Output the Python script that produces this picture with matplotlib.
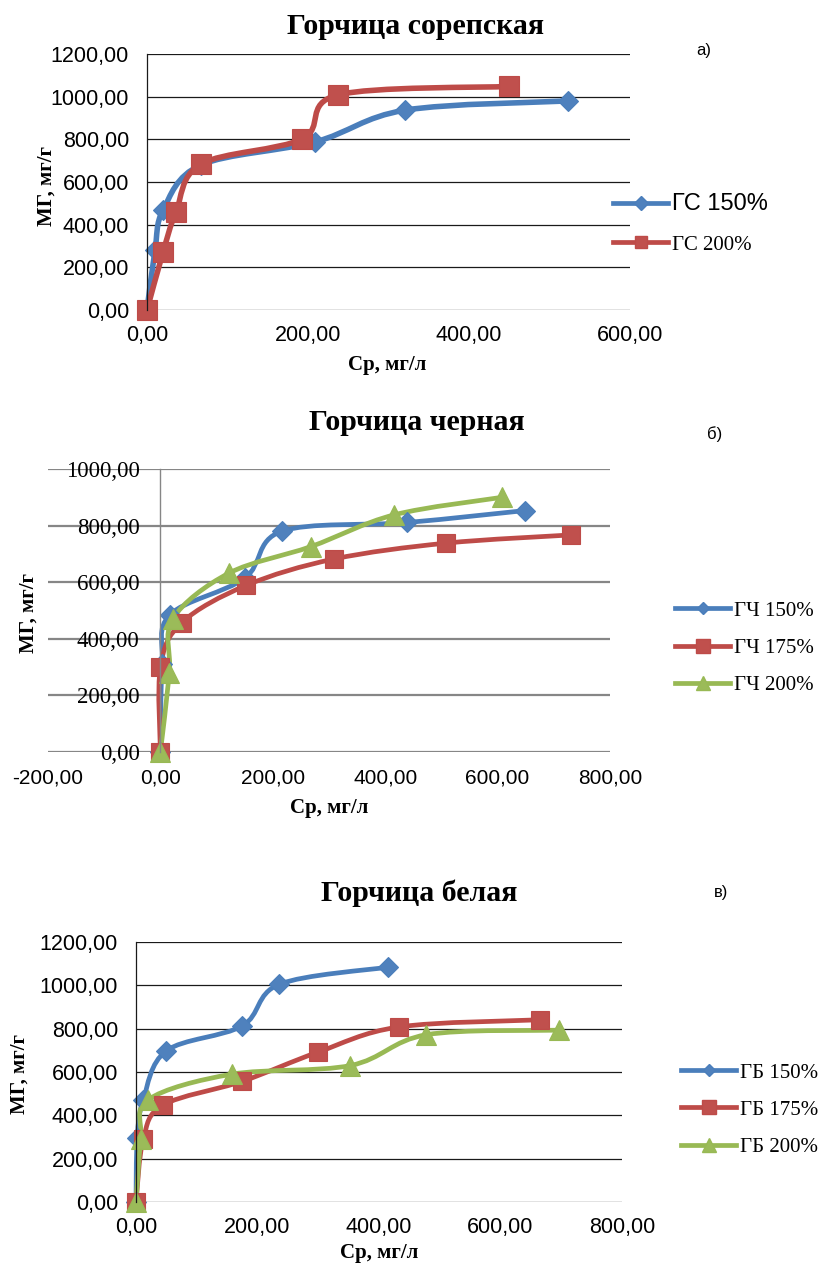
import matplotlib
matplotlib.use('Agg')
import matplotlib.pyplot as plt
from matplotlib.path import Path
from matplotlib.patches import PathPatch
from matplotlib.lines import Line2D
from matplotlib.ticker import FuncFormatter, MultipleLocator

SANS = 'Liberation Sans'
SERIF = 'Liberation Serif'

# а) Горчица сорепская
gs_labels = ['ГС 150%', 'ГС 200%']
gs150_x = [0, 10, 20, 67, 209, 321, 523]
gs150_y = [0, 281, 469, 680, 788, 937, 980]
gs200_x = [0, 20, 36, 67, 193, 237, 450]
gs200_y = [0, 272, 459, 684, 802, 1008, 1048]

# б) Горчица черная
gch_labels = ['ГЧ 150%', 'ГЧ 175%', 'ГЧ 200%']
gch150_x = [0, 3, 17, 150, 216, 439, 648]
gch150_y = [0, 310, 485, 614, 780, 811, 853]
gch175_x = [0, 0, 38, 153, 309, 508, 730]
gch175_y = [0, 300, 457, 589, 682, 738, 767]
gch200_x = [0, 16, 22, 122, 268, 416, 608]
gch200_y = [0, 280, 470, 632, 726, 838, 900]

# в) Горчица белая
gb_labels = ['ГБ 150%', 'ГБ 175%', 'ГБ 200%']
gb150_x = [0, 2, 12, 50, 175, 236, 415]
gb150_y = [0, 295, 472, 698, 813, 1005, 1084]
gb175_x = [0, 12, 45, 175, 299, 433, 665]
gb175_y = [0, 290, 448, 557, 691, 808, 841]
gb200_x = [0, 8, 20, 158, 353, 478, 697]
gb200_y = [0, 290, 472, 590, 630, 772, 793]

BLUE = ('#4a7ebb', '#4f81bd')
RED = ('#be4b48', '#c0504d')
GREEN = ('#98b954', '#9bbb59')


def smooth_path(xs, ys):
    # сглаженная линия как в Excel (кривые Безье через точки)
    pts = list(zip(xs, ys))
    n = len(pts)
    verts = [pts[0]]
    codes = [Path.MOVETO]
    for i in range(n - 1):
        p0 = pts[i - 1] if i > 0 else pts[i]
        p1 = pts[i]
        p2 = pts[i + 1]
        p3 = pts[i + 2] if i + 2 < n else pts[i + 1]
        c1 = (p1[0] + (p2[0] - p0[0]) / 6, p1[1] + (p2[1] - p0[1]) / 6)
        c2 = (p2[0] - (p3[0] - p1[0]) / 6, p2[1] - (p3[1] - p1[1]) / 6)
        verts += [c1, c2, p2]
        codes += [Path.CURVE4] * 3
    return Path(verts, codes)


def series(ax, xs, ys, colors, marker, ms, lw):
    ax.add_patch(PathPatch(smooth_path(xs, ys), fill=False, edgecolor=colors[0],
                           lw=lw, capstyle='round', joinstyle='round', clip_on=False))
    ax.plot(xs, ys, linestyle='none', marker=marker, ms=ms, color=colors[1],
            markeredgecolor=colors[0], markeredgewidth=0.8, clip_on=False)


fmt = FuncFormatter(lambda v, p: ('%.2f' % v).replace('.', ','))

fig = plt.figure(figsize=(8.24, 12.71), dpi=100)
W, H = 824.0, 1271.0


def axes_px(l, r, t, b):
    return fig.add_axes([l / W, 1 - b / H, (r - l) / W, (b - t) / H])


def legend(ax, handles, labels, x, yc, spacing):
    leg = ax.legend(handles, labels, loc='center left', bbox_to_anchor=(x / W, 1 - yc / H),
                    bbox_transform=fig.transFigure, frameon=False, borderpad=0,
                    borderaxespad=0, handlelength=2.65, handletextpad=0.2,
                    labelspacing=spacing, prop={'family': SERIF, 'size': 15})
    return leg


def handle(colors, marker, ms):
    return Line2D([], [], color=colors[0], lw=3.4, marker=marker, ms=ms,
                  markerfacecolor=colors[1], markeredgecolor=colors[0])


def basic_style(ax, gridcolor, gridlw):
    for s in ['top', 'right', 'bottom']:
        ax.spines[s].set_visible(False)
    ax.yaxis.grid(True, color=gridcolor, lw=gridlw)
    ax.set_axisbelow(True)
    ax.tick_params(length=0)
    ax.xaxis.set_major_formatter(fmt)
    ax.yaxis.set_major_formatter(fmt)


# ---------- а) ----------
ax1 = axes_px(147, 630, 54, 310)
basic_style(ax1, '#1a1a1a', 0.9)
ax1.spines['left'].set_color('#1a1a1a')
ax1.spines['left'].set_linewidth(0.9)
ax1.set_xlim(0, 600)
ax1.set_ylim(0, 1200)
ax1.xaxis.set_major_locator(MultipleLocator(200))
ax1.yaxis.set_major_locator(MultipleLocator(200))
ax1.tick_params(axis='y', pad=13)
ax1.tick_params(axis='x', pad=11)
for t in ax1.get_xticklabels() + ax1.get_yticklabels():
    t.set_family(SANS)
    t.set_fontsize(15.5)
series(ax1, gs150_x, gs150_y, BLUE, 'D', 10.5, 4.0)
series(ax1, gs200_x, gs200_y, RED, 's', 14.5, 4.0)
ax1.set_xlabel('Ср, мг/л', family=SERIF, fontsize=15, fontweight='bold')
ax1.set_ylabel('МГ, мг/г', family=SERIF, fontsize=15, fontweight='bold')
ax1.xaxis.set_label_coords((387 - 147) / 483.0, -(355 - 310) / 256.0)
ax1.yaxis.set_label_coords(-(147 - 57) / 483.0, (310 - 186) / 256.0)
fig.text(415 / W, 1 - 27 / H, 'Горчица сорепская', family=SERIF, fontsize=21.5,
         fontweight='bold', ha='center', va='center')
fig.text(704 / W, 1 - 50 / H, 'а)', family=SANS, fontsize=12, ha='center', va='center')
leg = legend(ax1, [handle(BLUE, 'D', 7), handle(RED, 's', 9)], gs_labels, 613, 224, 0.95)
leg.get_texts()[0].set_family(SANS)
leg.get_texts()[0].set_fontsize(17)

# ---------- б) ----------
ax2 = axes_px(48, 610, 469, 752)
basic_style(ax2, '#868686', 1.6)
ax2.spines['left'].set_position(('data', 0))
ax2.spines['left'].set_color('#868686')
ax2.spines['left'].set_linewidth(1.0)
ax2.set_xlim(-200, 800)
ax2.set_ylim(0, 1000)
ax2.xaxis.set_major_locator(MultipleLocator(200))
ax2.yaxis.set_major_locator(MultipleLocator(200))
ax2.tick_params(axis='y', pad=15)
ax2.tick_params(axis='x', pad=12)
for t in ax2.get_xticklabels():
    t.set_family(SANS)
    t.set_fontsize(15)
for t in ax2.get_yticklabels():
    t.set_family(SERIF)
    t.set_fontsize(16.5)
series(ax2, gch150_x, gch150_y, BLUE, 'D', 10, 3.4)
series(ax2, gch175_x, gch175_y, RED, 's', 13.5, 3.4)
series(ax2, gch200_x, gch200_y, GREEN, '^', 14, 3.4)
ax2.set_xlabel('Ср, мг/л', family=SERIF, fontsize=15, fontweight='bold')
ax2.set_ylabel('МГ, мг/г', family=SERIF, fontsize=15, fontweight='bold')
ax2.xaxis.set_label_coords((329 - 48) / 562.0, -(798 - 752) / 283.0)
ax2.yaxis.set_label_coords(-(48 - 39) / 562.0, (752 - 613) / 283.0)
fig.text(417 / W, 1 - 422 / H, 'Горчица черная', family=SERIF, fontsize=21.5,
         fontweight='bold', ha='center', va='center')
fig.text(715 / W, 1 - 434 / H, 'б)', family=SANS, fontsize=12, ha='center', va='center')
legend(ax2, [handle(BLUE, 'D', 6.5), handle(RED, 's', 9.5), handle(GREEN, '^', 9.5)],
       gch_labels, 675, 648, 0.85)

# ---------- в) ----------
ax3 = axes_px(136, 622, 942, 1202)
basic_style(ax3, '#1a1a1a', 0.9)
ax3.spines['left'].set_color('#1a1a1a')
ax3.spines['left'].set_linewidth(0.9)
ax3.set_xlim(0, 800)
ax3.set_ylim(0, 1200)
ax3.xaxis.set_major_locator(MultipleLocator(200))
ax3.yaxis.set_major_locator(MultipleLocator(200))
ax3.tick_params(axis='y', pad=13)
ax3.tick_params(axis='x', pad=11)
for t in ax3.get_xticklabels() + ax3.get_yticklabels():
    t.set_family(SANS)
    t.set_fontsize(15.5)
series(ax3, gb150_x, gb150_y, BLUE, 'D', 10, 3.4)
series(ax3, gb175_x, gb175_y, RED, 's', 13.5, 3.4)
series(ax3, gb200_x, gb200_y, GREEN, '^', 14, 3.4)
ax3.set_xlabel('Ср, мг/л', family=SERIF, fontsize=15, fontweight='bold')
ax3.set_ylabel('МГ, мг/г', family=SERIF, fontsize=15, fontweight='bold')
ax3.xaxis.set_label_coords((379 - 136) / 486.0, -(1243 - 1202) / 260.0)
ax3.yaxis.set_label_coords(-(136 - 30) / 486.0, (1202 - 1074) / 260.0)
fig.text(419 / W, 1 - 893 / H, 'Горчица белая', family=SERIF, fontsize=21.5,
         fontweight='bold', ha='center', va='center')
fig.text(721 / W, 1 - 893 / H, 'в)', family=SANS, fontsize=12, ha='center', va='center')
legend(ax3, [handle(BLUE, 'D', 6.5), handle(RED, 's', 9.5), handle(GREEN, '^', 9.5)],
       gb_labels, 681, 1110, 0.85)

fig.savefig('out.png', dpi=100)
plt.close(fig)
